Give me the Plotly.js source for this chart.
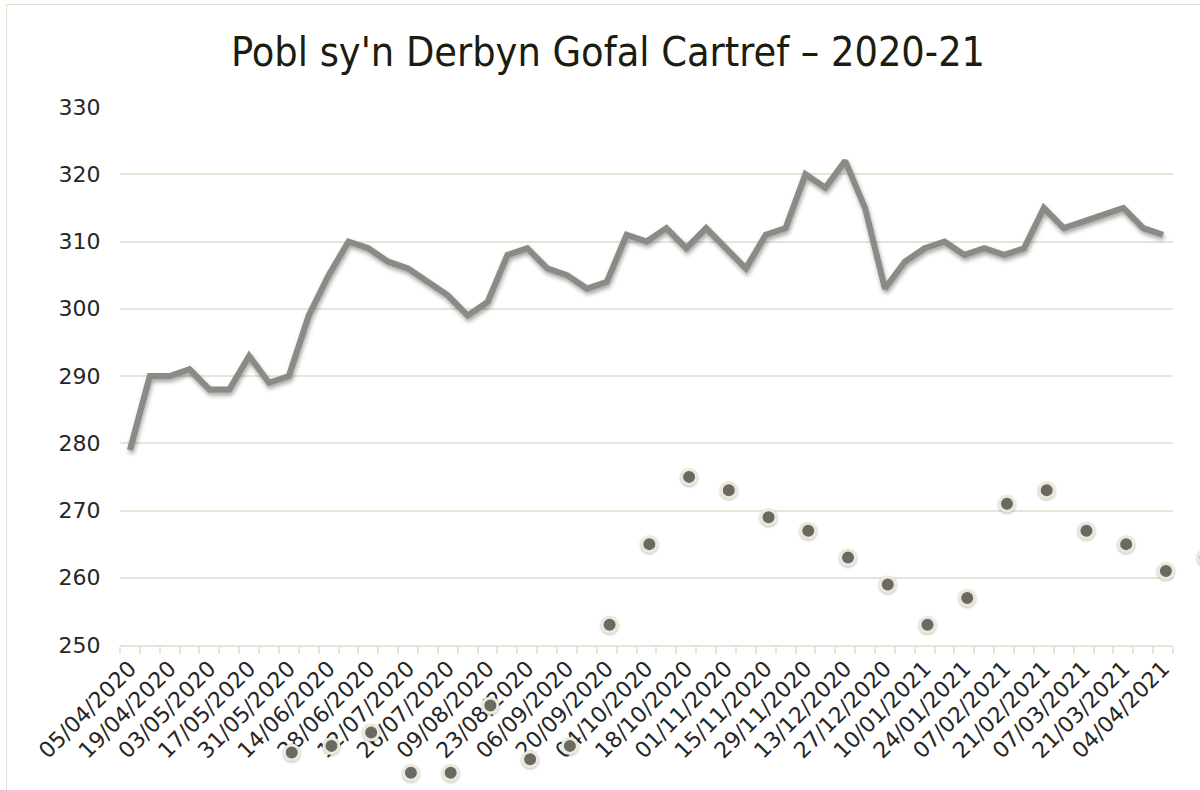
<!DOCTYPE html>
<html>
<head>
<meta charset="utf-8">
<script src="https://cdn.plot.ly/plotly-3.0.1.min.js"></script>
<style>
  html, body { margin: 0; padding: 0; background: #fff; }
  #wrap { position: relative; width: 1200px; height: 790px; overflow: hidden; }
  #chart { width: 1220px; height: 790px; }
  #frame { position: absolute; left: 6px; top: 4px; width: 1210px; height: 800px;
           border: 1.5px solid #e2e2d2; pointer-events: none; }
  #chart .js-line { filter: drop-shadow(1px 3px 2px rgba(0,0,0,0.35)); }
  #chart .point { filter: drop-shadow(0px 1px 1px rgba(0,0,0,0.25)); }
</style>
</head>
<body>
<div id="wrap">
  <div id="chart"></div>
  <div id="frame"></div>
</div>
<script>
// weekly counts (week starting)
const weeks = [
  '2020-04-05','2020-04-12','2020-04-19','2020-04-26','2020-05-03','2020-05-10','2020-05-17','2020-05-24',
  '2020-05-31','2020-06-07','2020-06-14','2020-06-21','2020-06-28','2020-07-05','2020-07-12','2020-07-19',
  '2020-07-26','2020-08-02','2020-08-09','2020-08-16','2020-08-23','2020-08-30','2020-09-06','2020-09-13',
  '2020-09-20','2020-09-27','2020-10-04','2020-10-11','2020-10-18','2020-10-25','2020-11-01','2020-11-08',
  '2020-11-15','2020-11-22','2020-11-29','2020-12-06','2020-12-13','2020-12-20','2020-12-27','2021-01-03',
  '2021-01-10','2021-01-17','2021-01-24','2021-01-31','2021-02-07','2021-02-14','2021-02-21','2021-02-28',
  '2021-03-07','2021-03-14','2021-03-21','2021-03-28','2021-04-04'
];
const people = [
  279, 290, 290, 291, 288, 288, 293, 289,
  290, 299, 305, 310, 309, 307, 306, 304,
  302, 299, 301, 308, 309, 306, 305, 303,
  304, 311, 310, 312, 309, 312, 309, 306,
  311, 312, 320, 318, 322, 315, 303, 307,
  309, 310, 308, 309, 308, 309, 315, 312,
  313, 314, 315, 312, 311
];

// second series, fortnightly markers (some fall below the axis)
const markDates = [
  '2020-06-01','2020-06-15','2020-06-29','2020-07-13','2020-07-27','2020-08-10','2020-08-24','2020-09-07',
  '2020-09-21','2020-10-05','2020-10-19','2020-11-02','2020-11-16','2020-11-30','2020-12-14','2020-12-28',
  '2021-01-11','2021-01-25','2021-02-08','2021-02-22','2021-03-08','2021-03-22','2021-04-05','2021-04-19'
];
const markValues = [
  234, 235, 237, 231, 231, 241, 233, 235,
  253, 265, 275, 273, 269, 267, 263, 259,
  253, 257, 271, 273, 267, 265, 261, 263
];

const yTicks = [250, 260, 270, 280, 290, 300, 310, 320, 330];

const DAY = 86400000;
const grid = '#e6e6d6';
const tickFont = { family: 'DejaVu Sans, Verdana, sans-serif', size: 22, color: '#262626' };

// geometry: main plot box 120..1173 x 107..645; figure is 1220 wide so the
// free marker layer can run past the right edge like the original
const W = 1220, H = 790, L = 120, T = 107;
const plotW = W - L, plotH = H - T;
const mainW = 1053, mainH = 538;
const x0 = Date.UTC(2020, 3, 1, 12), x1 = Date.UTC(2021, 3, 7, 12);
const y0 = 250, y1 = 330;
const msPerPx = (x1 - x0) / mainW;
const unitPerPx = (y1 - y0) / mainH;

const lineTrace = {
  x: weeks, y: people, type: 'scatter', mode: 'lines',
  xaxis: 'x', yaxis: 'y',
  line: { color: '#8a8b84', width: 6, shape: 'linear' }
};
const dotTrace = {
  x: markDates, y: markValues, type: 'scatter', mode: 'markers',
  xaxis: 'x2', yaxis: 'y2', cliponaxis: false,
  marker: { color: '#6a6a62', size: 15, line: { color: '#ece9dc', width: 3 } }
};

const layout = {
  width: W, height: H,
  margin: { l: L, r: 0, t: T, b: 0 },
  paper_bgcolor: 'rgba(0,0,0,0)', plot_bgcolor: 'rgba(0,0,0,0)',
  showlegend: false,
  title: {
    text: "Pobl sy'n Derbyn Gofal Cartref – 2020-21",
    x: 608 / W, xref: 'container', xanchor: 'center',
    y: 1 - 52 / H, yref: 'container', yanchor: 'middle',
    font: { family: 'Liberation Sans Narrow, DejaVu Sans Condensed, Arial Narrow, sans-serif', size: 41, color: '#1c1c10' }
  },
  xaxis: {
    type: 'date', domain: [0, mainW / plotW], anchor: 'y',
    range: [x0, x1],
    tick0: '2020-04-05', dtick: 14 * DAY,
    tickformat: '%d/%m/%Y',
    tickangle: -45,
    tickfont: tickFont,
    ticks: '', showgrid: false, zeroline: false,
    showline: true, linecolor: grid, linewidth: 2,
    minor: { tick0: '2020-04-01 12:00', dtick: 7 * DAY, ticks: 'outside', ticklen: 7, tickwidth: 2, tickcolor: grid, showgrid: false },
    fixedrange: true
  },
  yaxis: {
    domain: [1 - mainH / plotH, 1], anchor: 'x',
    range: [y0, y1],
    tickvals: yTicks,
    tickfont: tickFont,
    showgrid: true, gridcolor: grid, gridwidth: 2,
    zeroline: false, showline: false,
    ticks: 'outside', ticklen: 14, tickcolor: 'rgba(0,0,0,0)',
    fixedrange: true
  },
  xaxis2: {
    type: 'date', domain: [0, 1], anchor: 'y2',
    range: [x0, x0 + plotW * msPerPx], visible: false, fixedrange: true
  },
  yaxis2: {
    domain: [0, 1], anchor: 'x2',
    range: [y1 - plotH * unitPerPx, y1], visible: false, fixedrange: true
  }
};

Plotly.newPlot('chart', [lineTrace, dotTrace], layout, { displayModeBar: false, staticPlot: true });
</script>
</body>
</html>
